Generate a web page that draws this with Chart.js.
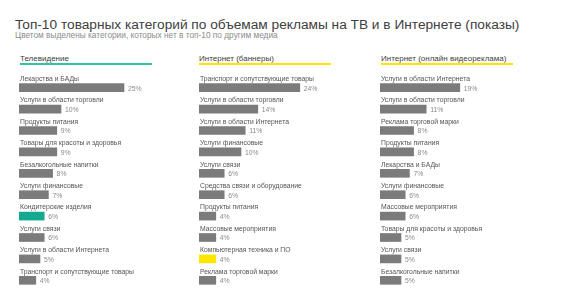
<!DOCTYPE html>
<html>
<head>
<meta charset="utf-8">
<script src="https://cdn.jsdelivr.net/npm/chart.js@4"></script>
<style>
  body { margin:0; background:#fff; font-family:"Liberation Sans", Arial, sans-serif; }
  #wrap { position:relative; width:585px; height:296px; overflow:hidden; }
  .t { position:absolute; white-space:nowrap; line-height:1; }
  .line { position:absolute; height:2px; width:132px; }
  canvas { position:absolute; }
</style>
</head>
<body>
<div id="wrap">
  <div class="t" style="left:15px;top:18px;font-size:13.7px;color:#404040">Топ-10 товарных категорий по объемам рекламы на ТВ и в Интернете (показы)</div>
  <div class="t" style="left:15px;top:31px;font-size:8.3px;color:#8c8c8c">Цветом выделены категории, которых нет в топ-10 по другим медиа</div>

  <div class="t" style="left:20px;top:55px;font-size:8px;color:#404040">Телевидение</div>
  <div class="line" style="left:20px;top:63px;background:#2ec4a5"></div>
  <div class="t" style="left:199px;top:55px;font-size:8px;color:#404040">Интернет (баннеры)</div>
  <div class="line" style="left:199px;top:63px;background:#ffe500"></div>
  <div class="t" style="left:381px;top:55px;font-size:8px;color:#404040">Интернет (онлайн видеореклама)</div>
  <div class="line" style="left:381px;top:63px;background:#ffe500"></div>

  <canvas id="tv" width="180" height="230" style="left:19px;top:66px"></canvas>
  <canvas id="ban" width="180" height="230" style="left:199px;top:66px"></canvas>
  <canvas id="vid" width="180" height="230" style="left:380px;top:66px"></canvas>
</div>
<script>
// Телевидение
const tvLabels = ['Лекарства и БАДы','Услуги в области торговли','Продукты питания','Товары для красоты и здоровья','Безалкогольные напитки','Услуги финансовые','Кондитерские изделия','Услуги связи','Услуги в области Интернета','Транспорт и сопутствующие товары']
const tvValues = [25,10,9,9,8,7,6,6,5,4]
const tvHighlight = [6]

// Интернет (баннеры)
const banLabels = ['Транспорт и сопутствующие товары','Услуги в области торговли','Услуги в области Интернета','Услуги финансовые','Услуги связи','Средства связи и оборудование','Продукты питания','Массовые мероприятия','Компьютерная техника и ПО','Реклама торговой марки']
const banValues = [24,14,11,10,6,6,4,4,4,4]
const banHighlight = [8]

// Интернет (онлайн видеореклама)
const vidLabels = ['Услуги в области Интернета','Услуги в области торговли','Реклама торговой марки','Продукты питания','Лекарства и БАДы','Услуги финансовые','Массовые мероприятия','Товары для красоты и здоровья','Услуги связи','Безалкогольные напитки']
const vidValues = [19,11,8,8,7,6,6,5,5,5]
const vidHighlight = []

const GRAY = '#7b7b7b'

const barText = {
  id: 'barText',
  afterDatasetsDraw(chart){
    const ctx = chart.ctx
    const meta = chart.getDatasetMeta(0)
    const labels = chart.data.labels
    const data = chart.data.datasets[0].data
    ctx.save()
    ctx.font = '6.8px "Liberation Sans", Arial, sans-serif'
    ctx.textBaseline = 'middle'
    meta.data.forEach((bar, i) => {
      ctx.fillStyle = '#555'
      ctx.fillText(labels[i], chart.chartArea.left + 1, bar.y - 8.5)
      ctx.fillStyle = '#8a8a8a'
      ctx.fillText(data[i] + '%', bar.x + 4, bar.y + 1)
    })
    ctx.restore()
  }
}

const makeChart = (id, labels, values, highlight, hiColor) => {
  new Chart(document.getElementById(id), {
    type: 'bar',
    data: {
      labels: labels,
      datasets: [{
        data: values,
        backgroundColor: values.map((v, i) => highlight.includes(i) ? hiColor : GRAY),
        barThickness: 8,
        borderWidth: 0
      }]
    },
    options: {
      indexAxis: 'y',
      responsive: false,
      animation: false,
      layout: { padding: { top: 11, bottom: 5, left: 0, right: 0 } },
      plugins: { legend: { display: false }, tooltip: { enabled: false } },
      scales: {
        x: { display: false, min: 0, max: 180 / 4.2 },
        y: { display: false }
      }
    },
    plugins: [barText]
  })
}

makeChart('tv', tvLabels, tvValues, tvHighlight, '#12a98e')
makeChart('ban', banLabels, banValues, banHighlight, '#ffe600')
makeChart('vid', vidLabels, vidValues, vidHighlight, '#ffe600')
</script>
</body>
</html>
